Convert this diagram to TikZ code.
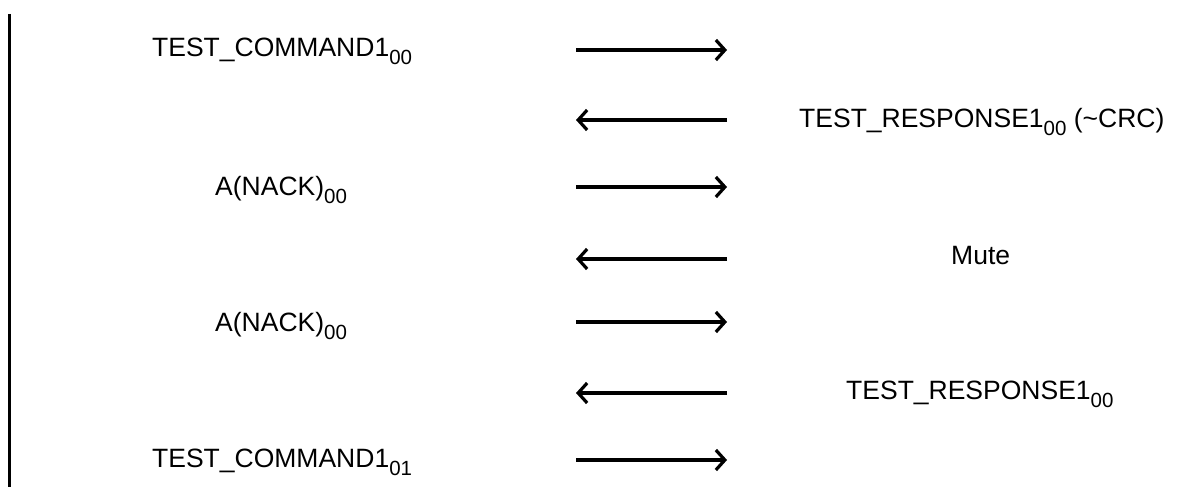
\documentclass[tikz,border=0pt]{standalone}
\usepackage{fontspec}
\setmainfont{Liberation Sans}
\usetikzlibrary{arrows.meta}
\newcommand{\lowsub}[1]{\raisebox{-8pt}{\fontsize{20.5}{21}\selectfont #1}}
\tikzset{
  lbl/.style={anchor=base west, inner sep=0pt, font=\fontsize{26.5}{30}\selectfont},
  msg/.style={line width=3.4pt, -{Straight Barb[length=9pt,width=20pt,line width=3.2pt]}},
  life/.style={line width=3pt}
}
\begin{document}
\begin{tikzpicture}[x=1pt,y=-1pt]
\useasboundingbox (0,0) rectangle (1202,487);
% lifeline
\coordinate (ltop) at (9,14);
\coordinate (lbot) at (9,487);
\draw[life] (ltop) -- (lbot);
% labels
\node[lbl] (t1) at (152,57) {TEST\_COMMAND1\lowsub{00}};
\node[lbl] (t2) at (799,127) {TEST\_RESPONSE1\lowsub{00} (\textasciitilde CRC)};
\node[lbl] (t3) at (215,195) {A(NACK)\lowsub{00}};
\node[lbl] (t4) at (951,264) {Mute};
\node[lbl] (t5) at (215,331) {A(NACK)\lowsub{00}};
\node[lbl] (t6) at (846,399) {TEST\_RESPONSE1\lowsub{00}};
\node[lbl] (t7) at (152,467) {TEST\_COMMAND1\lowsub{01}};
% arrow ends
\foreach \i/\y in {1/50,2/120,3/187,4/259,5/322,6/393,7/460}{
  \coordinate (a\i) at (576,\y);
  \coordinate (b\i) at (727,\y);
}
\draw[msg] (a1) -- (b1);
\draw[msg] (b2) -- (a2);
\draw[msg] (a3) -- (b3);
\draw[msg] (b4) -- (a4);
\draw[msg] (a5) -- (b5);
\draw[msg] (b6) -- (a6);
\draw[msg] (a7) -- (b7);
\end{tikzpicture}
\end{document}
